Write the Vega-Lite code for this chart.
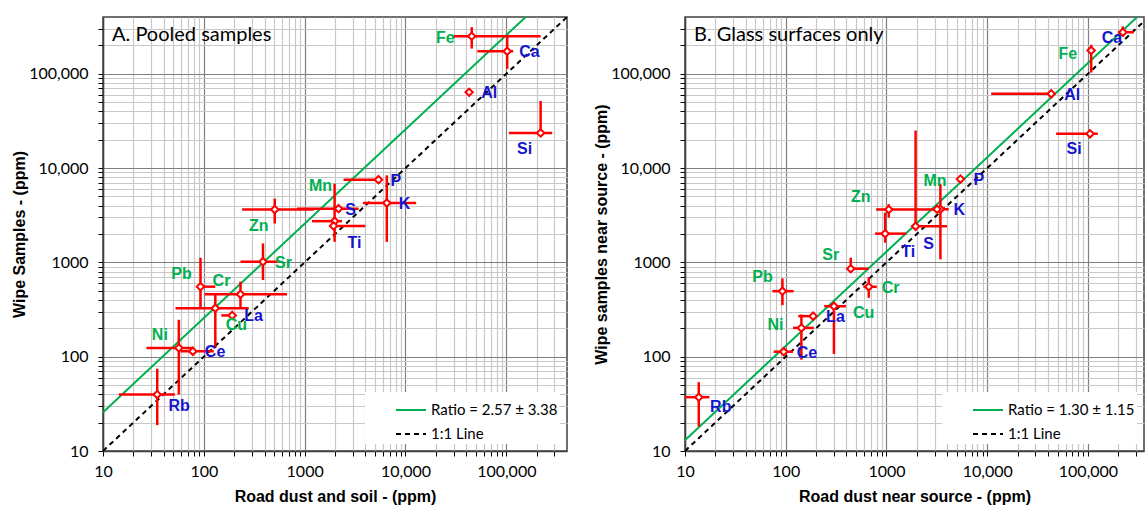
{
  "$schema": "https://vega.github.io/schema/vega-lite/v6.json",
  "padding": {"left": 10, "top": 16, "right": 2, "bottom": 0},
  "background": "white",
  "spacing": 24,
  "datasets": {
    "A": [
      {"el": "Fe", "cls": "g", "x": 45400, "y": 250000, "xlo": 29900, "xhi": 219000, "ylo": 185000, "yhi": 312000},
      {"el": "Ca", "cls": "b", "x": 102000, "y": 173000, "xlo": 51600, "xhi": 117000, "ylo": 113000, "yhi": 250000},
      {"el": "Al", "cls": "b", "x": 42800, "y": 63700},
      {"el": "Si", "cls": "b", "x": 219000, "y": 23600, "xlo": 106000, "xhi": 285000, "ylo": 23600, "yhi": 51500},
      {"el": "P", "cls": "b", "x": 5400, "y": 7540, "xlo": 2430, "xhi": 5400},
      {"el": "K", "cls": "b", "x": 6530, "y": 4270, "xlo": 3780, "xhi": 12760, "ylo": 1650, "yhi": 8370},
      {"el": "Mn", "cls": "g", "x": 2170, "y": 3715, "xlo": 840, "xhi": 3430},
      {"el": "S", "cls": "b", "x": 1982, "y": 2735, "xlo": 1183, "xhi": 2344, "ylo": 1652, "yhi": 6833},
      {"el": "Ti", "cls": "b", "x": 1936, "y": 2438, "xlo": 1936, "xhi": 3990},
      {"el": "Zn", "cls": "g", "x": 505, "y": 3631, "xlo": 240, "xhi": 1230, "ylo": 2582, "yhi": 4742},
      {"el": "Sr", "cls": "g", "x": 386, "y": 1016, "xlo": 231, "xhi": 540, "ylo": 650, "yhi": 1589},
      {"el": "Pb", "cls": "g", "x": 92.7, "y": 553, "xlo": 92.7, "xhi": 130, "ylo": 327, "yhi": 1119},
      {"el": "Cr", "cls": "g", "x": 231, "y": 459, "xlo": 102, "xhi": 668, "ylo": 327, "yhi": 625},
      {"el": "Cu", "cls": "g", "x": 130, "y": 327, "xlo": 52.4, "xhi": 279, "ylo": 123.6, "yhi": 471},
      {"el": "La", "cls": "b", "x": 191, "y": 274, "xlo": 149, "xhi": 210},
      {"el": "Ni", "cls": "g", "x": 56.5, "y": 124, "xlo": 27, "xhi": 79.6, "ylo": 39.7, "yhi": 246},
      {"el": "Ce", "cls": "b", "x": 77.8, "y": 114, "xlo": 58.8, "xhi": 125.6},
      {"el": "Rb", "cls": "b", "x": 34.5, "y": 39.7, "xlo": 14.4, "xhi": 51.6, "ylo": 18.8, "yhi": 74.6}
    ],
    "B": [
      {"el": "Fe", "cls": "g", "x": 107600, "y": 176600, "ylo": 103000, "yhi": 203000},
      {"el": "Ca", "cls": "b", "x": 222000, "y": 276000, "xlo": 198000, "xhi": 285000, "ylo": 249000, "yhi": 318000},
      {"el": "Al", "cls": "b", "x": 43150, "y": 61400, "xlo": 10950, "xhi": 43150},
      {"el": "Si", "cls": "b", "x": 105000, "y": 23100, "xlo": 48300, "xhi": 125400},
      {"el": "P", "cls": "b", "x": 5420, "y": 7640},
      {"el": "K", "cls": "b", "x": 3430, "y": 3660, "xlo": 3000, "xhi": 4150, "ylo": 1076, "yhi": 6761},
      {"el": "Mn", "cls": "g", "x": 3180, "y": 3660},
      {"el": "S", "cls": "b", "x": 1945, "y": 2416, "xlo": 1945, "xhi": 3990, "ylo": 2416, "yhi": 25000},
      {"el": "Ti", "cls": "b", "x": 970, "y": 2018, "xlo": 771, "xhi": 1570, "ylo": 1618, "yhi": 3373},
      {"el": "Zn", "cls": "g", "x": 1054, "y": 3631, "xlo": 790, "xhi": 3200, "ylo": 2985, "yhi": 4140},
      {"el": "Sr", "cls": "g", "x": 442, "y": 857, "xlo": 442, "xhi": 662, "ylo": 857, "yhi": 1122},
      {"el": "Cr", "cls": "g", "x": 667, "y": 551, "xlo": 590, "xhi": 801, "ylo": 421, "yhi": 698},
      {"el": "Pb", "cls": "g", "x": 92.7, "y": 495, "xlo": 73.6, "xhi": 120, "ylo": 352, "yhi": 676},
      {"el": "Cu", "cls": "g", "x": 301, "y": 343, "xlo": 241, "xhi": 396, "ylo": 107, "yhi": 372},
      {"el": "La", "cls": "b", "x": 187, "y": 269, "xlo": 133, "xhi": 187},
      {"el": "Ni", "cls": "g", "x": 143, "y": 202, "xlo": 118, "xhi": 190, "ylo": 93, "yhi": 280},
      {"el": "Ce", "cls": "b", "x": 95.5, "y": 113, "xlo": 75.9, "xhi": 118},
      {"el": "Rb", "cls": "b", "x": 13.7, "y": 37.2, "xlo": 10, "xhi": 17.5, "ylo": 18.2, "yhi": 53.7}
    ],
    "LA": [
      {"s": "Ratio = 2.57 ± 3.38", "x": 10, "y": 25.7},
      {"s": "Ratio = 2.57 ± 3.38", "x": 400000, "y": 1028000},
      {"s": "1:1 Line", "x": 10, "y": 10},
      {"s": "1:1 Line", "x": 400000, "y": 400000}
    ],
    "LB": [
      {"s": "Ratio = 1.30 ± 1.15", "x": 10, "y": 13},
      {"s": "Ratio = 1.30 ± 1.15", "x": 400000, "y": 520000},
      {"s": "1:1 Line", "x": 10, "y": 10},
      {"s": "1:1 Line", "x": 400000, "y": 400000}
    ]
  },
  "hconcat": [
    {
      "width": 464,
      "height": 434,
      "layer": [
        {
          "encoding": {
            "x": {"field": "x", "type": "quantitative", "scale": {"type": "log", "domain": [10, 400000], "nice": false},
              "axis": {"title": "Road dust and soil -  (ppm)", "values": [10,20,30,40,50,60,70,80,90,100,200,300,400,500,600,700,800,900,1000,2000,3000,4000,5000,6000,7000,8000,9000,10000,20000,30000,40000,50000,60000,70000,80000,90000,100000,200000,300000],
                "labelExpr": "indexof([10,100,1000], datum.value) >= 0 ? format(datum.value, 'd') : (indexof([10000,100000], datum.value) >= 0 ? format(datum.value, ',') : '')",
                "gridColor": {"condition": {"test": "indexof([10,100,1000,10000,100000], datum.value) >= 0", "value": "#7f7f7f"}, "value": "#c8c8c8"},
                "labelPadding": 7, "titlePadding": 9}},
            "y": {"field": "y", "type": "quantitative", "scale": {"type": "log", "domain": [10, 400000], "nice": false},
              "axis": {"title": "Wipe Samples -  (ppm)", "values": [10,20,30,40,50,60,70,80,90,100,200,300,400,500,600,700,800,900,1000,2000,3000,4000,5000,6000,7000,8000,9000,10000,20000,30000,40000,50000,60000,70000,80000,90000,100000,200000,300000],
                "labelExpr": "indexof([10,100,1000], datum.value) >= 0 ? format(datum.value, 'd') : (indexof([10000,100000], datum.value) >= 0 ? format(datum.value, ',') : '')",
                "gridColor": {"condition": {"test": "indexof([10,100,1000,10000,100000], datum.value) >= 0", "value": "#7f7f7f"}, "value": "#c8c8c8"},
                "labelPadding": 10, "titlePadding": 3, "minExtent": 73, "maxExtent": 73}}
          },
          "layer": [
            {"data": {"name": "LA"}, "mark": {"type": "line", "clip": true, "strokeWidth": 2},
              "encoding": {
                "color": {"field": "s", "type": "nominal", "title": null, "scale": {"domain": ["Ratio = 2.57 ± 3.38", "1:1 Line"], "range": ["#00b050", "black"]}},
                "strokeDash": {"field": "s", "type": "nominal", "title": null, "scale": {"domain": ["Ratio = 2.57 ± 3.38", "1:1 Line"], "range": [[1, 0], [5, 4]]}}
              }},
            {"data": {"name": "A"}, "transform": [{"filter": "isValid(datum.xlo)"}], "mark": {"type": "rule", "color": "#ff0000", "strokeWidth": 2.5},
              "encoding": {"x": {"field": "xlo", "type": "quantitative"}, "x2": {"field": "xhi"}}},
            {"data": {"name": "A"}, "transform": [{"filter": "isValid(datum.ylo)"}], "mark": {"type": "rule", "color": "#ff0000", "strokeWidth": 2.5},
              "encoding": {"y": {"field": "ylo", "type": "quantitative"}, "y2": {"field": "yhi"}}},
            {"data": {"name": "A"}, "mark": {"type": "point", "shape": "diamond", "filled": true, "fill": "white", "stroke": "#ff0000", "strokeWidth": 2, "size": 55, "opacity": 1}},
            {"data": {"name": "A"}, "transform": [{"filter": {"field": "el", "oneOf": ["Ce", "La", "Sr", "P", "K", "Ca", "Al"]}}],
              "mark": {"type": "text", "align": "left", "baseline": "middle", "dx": 12, "dy": 1, "font": "Liberation Sans", "fontSize": 16, "fontWeight": "bold"},
              "encoding": {"text": {"field": "el"}, "color": {"condition": {"test": "datum.cls == 'g'", "value": "#00b050"}, "value": "#1515d0"}}},
            {"data": {"name": "A"}, "transform": [{"filter": {"field": "el", "oneOf": ["Rb"]}}],
              "mark": {"type": "text", "align": "center", "baseline": "middle", "dx": 22, "dy": 11, "font": "Liberation Sans", "fontSize": 16, "fontWeight": "bold"},
              "encoding": {"text": {"field": "el"}, "color": {"condition": {"test": "datum.cls == 'g'", "value": "#00b050"}, "value": "#1515d0"}}},
            {"data": {"name": "A"}, "transform": [{"filter": {"field": "el", "oneOf": ["Cu", "Ti"]}}],
              "mark": {"type": "text", "align": "center", "baseline": "middle", "dx": 21, "dy": 17, "font": "Liberation Sans", "fontSize": 16, "fontWeight": "bold"},
              "encoding": {"text": {"field": "el"}, "color": {"condition": {"test": "datum.cls == 'g'", "value": "#00b050"}, "value": "#1515d0"}}},
            {"data": {"name": "A"}, "transform": [{"filter": {"field": "el", "oneOf": ["Ni", "Pb", "Cr"]}}],
              "mark": {"type": "text", "align": "center", "baseline": "middle", "dx": -19, "dy": -13, "font": "Liberation Sans", "fontSize": 16, "fontWeight": "bold"},
              "encoding": {"text": {"field": "el"}, "color": {"condition": {"test": "datum.cls == 'g'", "value": "#00b050"}, "value": "#1515d0"}}},
            {"data": {"name": "A"}, "transform": [{"filter": {"field": "el", "oneOf": ["Mn"]}}],
              "mark": {"type": "text", "align": "center", "baseline": "middle", "dx": -18, "dy": -23, "font": "Liberation Sans", "fontSize": 16, "fontWeight": "bold"},
              "encoding": {"text": {"field": "el"}, "color": {"condition": {"test": "datum.cls == 'g'", "value": "#00b050"}, "value": "#1515d0"}}},
            {"data": {"name": "A"}, "transform": [{"filter": {"field": "el", "oneOf": ["S"]}}],
              "mark": {"type": "text", "align": "center", "baseline": "middle", "dx": 16, "dy": -11, "font": "Liberation Sans", "fontSize": 16, "fontWeight": "bold"},
              "encoding": {"text": {"field": "el"}, "color": {"condition": {"test": "datum.cls == 'g'", "value": "#00b050"}, "value": "#1515d0"}}},
            {"data": {"name": "A"}, "transform": [{"filter": {"field": "el", "oneOf": ["Zn", "Si"]}}],
              "mark": {"type": "text", "align": "center", "baseline": "middle", "dx": -16, "dy": 16, "font": "Liberation Sans", "fontSize": 16, "fontWeight": "bold"},
              "encoding": {"text": {"field": "el"}, "color": {"condition": {"test": "datum.cls == 'g'", "value": "#00b050"}, "value": "#1515d0"}}},
            {"data": {"name": "A"}, "transform": [{"filter": {"field": "el", "oneOf": ["Fe"]}}],
              "mark": {"type": "text", "align": "right", "baseline": "middle", "dx": -17, "dy": 2, "font": "Liberation Sans", "fontSize": 16, "fontWeight": "bold"},
              "encoding": {"text": {"field": "el"}, "color": {"condition": {"test": "datum.cls == 'g'", "value": "#00b050"}, "value": "#1515d0"}}}
          ]
        },
        {"data": {"values": [{}]}, "mark": {"type": "text", "align": "left", "baseline": "alphabetic", "dx": 9, "dy": 24, "font": "Lato", "fontSize": 20, "color": "black"},
          "encoding": {"x": {"datum": 10, "type": "quantitative"}, "y": {"datum": 400000, "type": "quantitative"}, "text": {"value": "A. Pooled samples"}}}
      ]
    },
    {
      "width": 459,
      "height": 434,
      "layer": [
        {
          "encoding": {
            "x": {"field": "x", "type": "quantitative", "scale": {"type": "log", "domain": [10, 360000], "nice": false},
              "axis": {"title": "Road dust near source - (ppm)", "values": [10,20,30,40,50,60,70,80,90,100,200,300,400,500,600,700,800,900,1000,2000,3000,4000,5000,6000,7000,8000,9000,10000,20000,30000,40000,50000,60000,70000,80000,90000,100000,200000,300000],
                "labelExpr": "indexof([10,100,1000], datum.value) >= 0 ? format(datum.value, 'd') : (indexof([10000,100000], datum.value) >= 0 ? format(datum.value, ',') : '')",
                "gridColor": {"condition": {"test": "indexof([10,100,1000,10000,100000], datum.value) >= 0", "value": "#7f7f7f"}, "value": "#c8c8c8"},
                "labelPadding": 7, "titlePadding": 9}},
            "y": {"field": "y", "type": "quantitative", "scale": {"type": "log", "domain": [10, 400000], "nice": false},
              "axis": {"title": "Wipe samples near source -  (ppm)", "values": [10,20,30,40,50,60,70,80,90,100,200,300,400,500,600,700,800,900,1000,2000,3000,4000,5000,6000,7000,8000,9000,10000,20000,30000,40000,50000,60000,70000,80000,90000,100000,200000,300000],
                "labelExpr": "indexof([10,100,1000], datum.value) >= 0 ? format(datum.value, 'd') : (indexof([10000,100000], datum.value) >= 0 ? format(datum.value, ',') : '')",
                "gridColor": {"condition": {"test": "indexof([10,100,1000,10000,100000], datum.value) >= 0", "value": "#7f7f7f"}, "value": "#c8c8c8"},
                "labelPadding": 10, "titlePadding": 3, "minExtent": 73, "maxExtent": 73}}
          },
          "layer": [
            {"data": {"name": "LB"}, "mark": {"type": "line", "clip": true, "strokeWidth": 2},
              "encoding": {
                "color": {"field": "s", "type": "nominal", "title": null, "scale": {"domain": ["Ratio = 1.30 ± 1.15", "1:1 Line"], "range": ["#00b050", "black"]}},
                "strokeDash": {"field": "s", "type": "nominal", "title": null, "scale": {"domain": ["Ratio = 1.30 ± 1.15", "1:1 Line"], "range": [[1, 0], [5, 4]]}}
              }},
            {"data": {"name": "B"}, "transform": [{"filter": "isValid(datum.xlo)"}], "mark": {"type": "rule", "color": "#ff0000", "strokeWidth": 2.5, "clip": true},
              "encoding": {"x": {"field": "xlo", "type": "quantitative"}, "x2": {"field": "xhi"}}},
            {"data": {"name": "B"}, "transform": [{"filter": "isValid(datum.ylo)"}], "mark": {"type": "rule", "color": "#ff0000", "strokeWidth": 2.5},
              "encoding": {"y": {"field": "ylo", "type": "quantitative"}, "y2": {"field": "yhi"}}},
            {"data": {"name": "B"}, "mark": {"type": "point", "shape": "diamond", "filled": true, "fill": "white", "stroke": "#ff0000", "strokeWidth": 2, "size": 55, "opacity": 1}},
            {"data": {"name": "B"}, "transform": [{"filter": {"field": "el", "oneOf": ["Ce", "La", "Cr", "K", "P", "Al"]}}],
              "mark": {"type": "text", "align": "left", "baseline": "middle", "dx": 13, "dy": 1, "font": "Liberation Sans", "fontSize": 16, "fontWeight": "bold"},
              "encoding": {"text": {"field": "el"}, "color": {"condition": {"test": "datum.cls == 'g'", "value": "#00b050"}, "value": "#1515d0"}}},
            {"data": {"name": "B"}, "transform": [{"filter": {"field": "el", "oneOf": ["Rb"]}}],
              "mark": {"type": "text", "align": "center", "baseline": "middle", "dx": 22, "dy": 10, "font": "Liberation Sans", "fontSize": 16, "fontWeight": "bold"},
              "encoding": {"text": {"field": "el"}, "color": {"condition": {"test": "datum.cls == 'g'", "value": "#00b050"}, "value": "#1515d0"}}},
            {"data": {"name": "B"}, "transform": [{"filter": {"field": "el", "oneOf": ["Cu"]}}],
              "mark": {"type": "text", "align": "left", "baseline": "middle", "dx": 19, "dy": 7, "font": "Liberation Sans", "fontSize": 16, "fontWeight": "bold"},
              "encoding": {"text": {"field": "el"}, "color": {"condition": {"test": "datum.cls == 'g'", "value": "#00b050"}, "value": "#1515d0"}}},
            {"data": {"name": "B"}, "transform": [{"filter": {"field": "el", "oneOf": ["Pb", "Sr"]}}],
              "mark": {"type": "text", "align": "center", "baseline": "middle", "dx": -20, "dy": -14, "font": "Liberation Sans", "fontSize": 16, "fontWeight": "bold"},
              "encoding": {"text": {"field": "el"}, "color": {"condition": {"test": "datum.cls == 'g'", "value": "#00b050"}, "value": "#1515d0"}}},
            {"data": {"name": "B"}, "transform": [{"filter": {"field": "el", "oneOf": ["Zn"]}}],
              "mark": {"type": "text", "align": "center", "baseline": "middle", "dx": -28, "dy": -13, "font": "Liberation Sans", "fontSize": 16, "fontWeight": "bold"},
              "encoding": {"text": {"field": "el"}, "color": {"condition": {"test": "datum.cls == 'g'", "value": "#00b050"}, "value": "#1515d0"}}},
            {"data": {"name": "B"}, "transform": [{"filter": {"field": "el", "oneOf": ["Ni"]}}],
              "mark": {"type": "text", "align": "right", "baseline": "middle", "dx": -18, "dy": -3, "font": "Liberation Sans", "fontSize": 16, "fontWeight": "bold"},
              "encoding": {"text": {"field": "el"}, "color": {"condition": {"test": "datum.cls == 'g'", "value": "#00b050"}, "value": "#1515d0"}}},
            {"data": {"name": "B"}, "transform": [{"filter": {"field": "el", "oneOf": ["Mn"]}}],
              "mark": {"type": "text", "align": "center", "baseline": "middle", "dx": -2, "dy": -28, "font": "Liberation Sans", "fontSize": 16, "fontWeight": "bold"},
              "encoding": {"text": {"field": "el"}, "color": {"condition": {"test": "datum.cls == 'g'", "value": "#00b050"}, "value": "#1515d0"}}},
            {"data": {"name": "B"}, "transform": [{"filter": {"field": "el", "oneOf": ["Ti"]}}],
              "mark": {"type": "text", "align": "center", "baseline": "middle", "dx": 23, "dy": 18, "font": "Liberation Sans", "fontSize": 16, "fontWeight": "bold"},
              "encoding": {"text": {"field": "el"}, "color": {"condition": {"test": "datum.cls == 'g'", "value": "#00b050"}, "value": "#1515d0"}}},
            {"data": {"name": "B"}, "transform": [{"filter": {"field": "el", "oneOf": ["S"]}}],
              "mark": {"type": "text", "align": "center", "baseline": "middle", "dx": 13, "dy": 18, "font": "Liberation Sans", "fontSize": 16, "fontWeight": "bold"},
              "encoding": {"text": {"field": "el"}, "color": {"condition": {"test": "datum.cls == 'g'", "value": "#00b050"}, "value": "#1515d0"}}},
            {"data": {"name": "B"}, "transform": [{"filter": {"field": "el", "oneOf": ["Si"]}}],
              "mark": {"type": "text", "align": "center", "baseline": "middle", "dx": -16, "dy": 15, "font": "Liberation Sans", "fontSize": 16, "fontWeight": "bold"},
              "encoding": {"text": {"field": "el"}, "color": {"condition": {"test": "datum.cls == 'g'", "value": "#00b050"}, "value": "#1515d0"}}},
            {"data": {"name": "B"}, "transform": [{"filter": {"field": "el", "oneOf": ["Ca"]}}],
              "mark": {"type": "text", "align": "center", "baseline": "middle", "dx": -11, "dy": 6, "font": "Liberation Sans", "fontSize": 16, "fontWeight": "bold"},
              "encoding": {"text": {"field": "el"}, "color": {"condition": {"test": "datum.cls == 'g'", "value": "#00b050"}, "value": "#1515d0"}}},
            {"data": {"name": "B"}, "transform": [{"filter": {"field": "el", "oneOf": ["Fe"]}}],
              "mark": {"type": "text", "align": "right", "baseline": "middle", "dx": -14, "dy": 4, "font": "Liberation Sans", "fontSize": 16, "fontWeight": "bold"},
              "encoding": {"text": {"field": "el"}, "color": {"condition": {"test": "datum.cls == 'g'", "value": "#00b050"}, "value": "#1515d0"}}}
          ]
        },
        {"data": {"values": [{}]}, "mark": {"type": "text", "align": "left", "baseline": "alphabetic", "dx": 9, "dy": 24, "font": "Lato", "fontSize": 20, "color": "black"},
          "encoding": {"x": {"datum": 10, "type": "quantitative"}, "y": {"datum": 400000, "type": "quantitative"}, "text": {"value": "B. Glass surfaces only"}}}
      ]
    }
  ],
  "resolve": {"scale": {"color": "independent", "strokeDash": "independent"}, "legend": {"color": "independent", "strokeDash": "independent"}},
  "config": {
    "view": {"stroke": "#404040", "strokeWidth": 1.5},
    "axis": {"labelFont": "Lato", "labelFontSize": 16, "labelColor": "black", "titleFont": "Liberation Sans", "titleFontSize": 16, "titleFontWeight": "bold", "titleColor": "black", "domainColor": "#404040", "domainWidth": 1.5, "tickColor": "black", "tickSize": 5, "gridOpacity": 1, "gridWidth": 1.2, "labelOverlap": false, "labelFlush": false, "labelBound": false},
    "legend": {"orient": "bottom-right", "offset": 7, "fillColor": "white", "padding": 2, "symbolOffset": 28, "symbolType": "stroke", "symbolSize": 900, "symbolStrokeWidth": 2, "labelFont": "Lato", "labelFontSize": 15, "labelColor": "black", "rowPadding": -9, "labelLimit": 300, "labelOffset": 4}
  }
}
